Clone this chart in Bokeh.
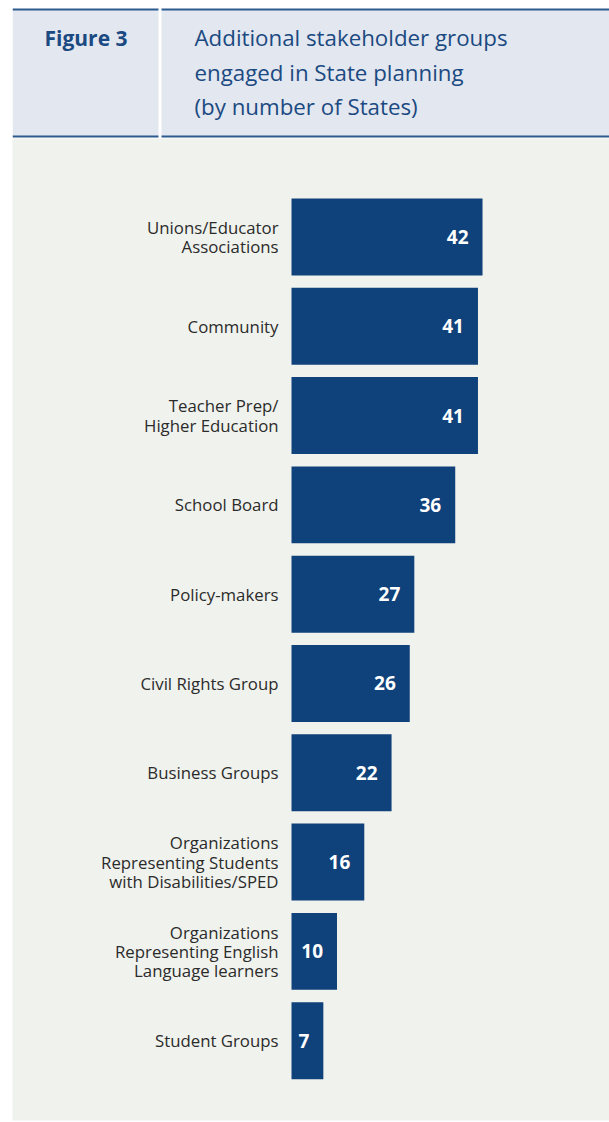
from bokeh.plotting import figure
from bokeh.layouts import column
from bokeh.models import Range1d, ColumnDataSource
from bokeh.core.properties import value
from bokeh.embed import file_html
from bokeh.resources import INLINE

# ---- data ----
categories = [
    "Unions/Educator\nAssociations",
    "Community",
    "Teacher Prep/\nHigher Education",
    "School Board",
    "Policy-makers",
    "Civil Rights Group",
    "Business Groups",
    "Organizations\nRepresenting Students\nwith Disabilities/SPED",
    "Organizations\nRepresenting English\nLanguage learners",
    "Student Groups",
]
counts = [42, 41, 41, 36, 27, 26, 22, 16, 10, 7]
figure_label = ["Figure 3"]
title_lines = ["Additional stakeholder groups", "engaged in State planning", "(by number of States)"]

FONT = "Open Sans"
BLUE = "#0f417a"
TITLE_BLUE = "#1b4a82"

# ---- header (frame aligned with chart frame, starting at page x=12) ----
hdr = figure(width=609, height=138, x_range=Range1d(12, 609), y_range=Range1d(138, 0),
             min_border_left=12, min_border_right=0, min_border_top=0, min_border_bottom=0,
             x_axis_location=None, y_axis_location=None,
             toolbar_location=None, output_backend="svg",
             outline_line_color=None, border_fill_color="white", background_fill_color="white")
hdr.grid.visible = False
hdr.quad(left=[12], right=[609], top=[9], bottom=[136], fill_color="#e3e7ef", line_color=None)
hdr.segment(x0=[12, 12], x1=[609, 609], y0=[9, 136], y1=[9, 136], line_color="#2d5b8f", line_width=2)
hdr.quad(left=[158], right=[161], top=[6], bottom=[138], fill_color="white", line_color=None)
hdr.text(x=[44], y=[37], text=figure_label, text_font=value(FONT), text_font_style="bold",
         text_font_size="21px", text_color=TITLE_BLUE, text_baseline="middle", text_align="left")
hdr.text(x=[194, 194, 194], y=[37, 72, 106], text=title_lines, text_font=value(FONT),
         text_font_size="22.3px", text_color=TITLE_BLUE, text_baseline="middle", text_align="left")

# ---- chart ----
ys = [-i for i in range(len(categories))]
src = ColumnDataSource(dict(y=ys, cat=categories, n=counts, lbl=[str(c) for c in counts]))

p = figure(width=609, height=984, x_range=Range1d(-61.35, 69.92), y_range=Range1d(-9.894, 1.103),
           min_border_left=12, min_border_right=0, min_border_top=0, min_border_bottom=2,
           x_axis_location=None, y_axis_location=None,
           toolbar_location=None, output_backend="svg", outline_line_color=None,
           border_fill_color="white", background_fill_color="#f0f2ed")
p.grid.visible = False
p.hbar(y="y", left=0, right="n", height=0.862, source=src, fill_color=BLUE, line_color=None)
p.text(x=0, y="y", text="cat", source=src, x_offset=-13, text_align="right", text_baseline="middle",
       text_font=value(FONT), text_font_size="16.8px", text_color="#2b2b2b", text_line_height=0.84)
p.text(x="n", y="y", text="lbl", source=src, x_offset=-14, text_align="right", text_baseline="middle",
       text_font=value(FONT), text_font_style="bold", text_font_size="19px", text_color="white")

layout = column(hdr, p, spacing=0)
open("out.html", "w").write(file_html(layout, INLINE))
